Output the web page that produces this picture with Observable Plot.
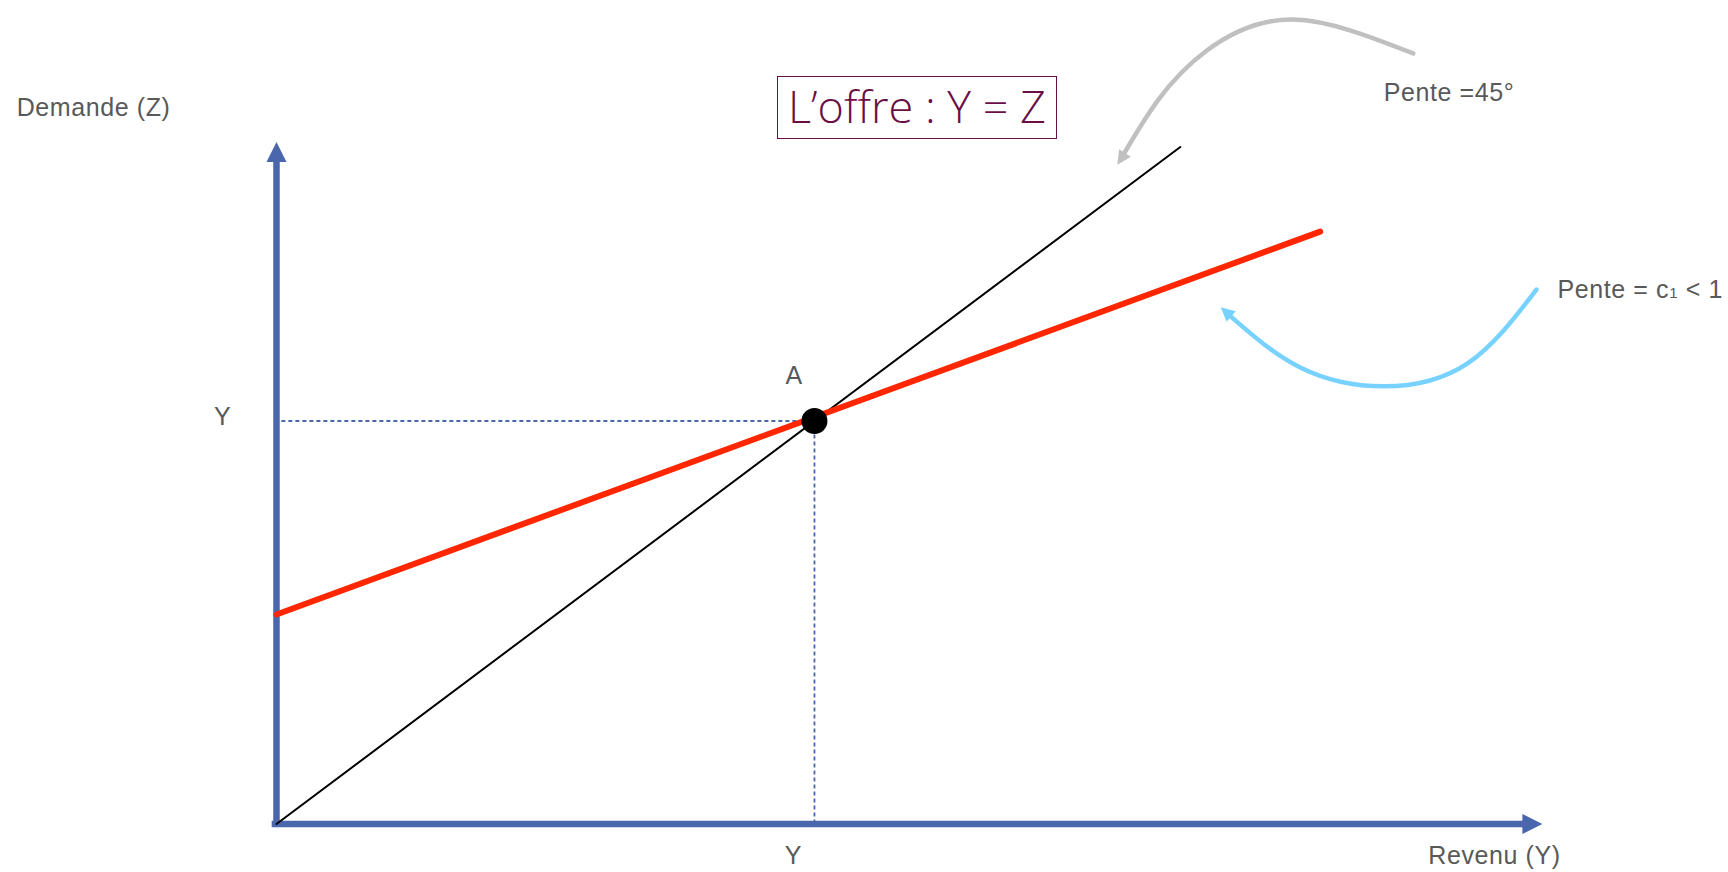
<!DOCTYPE html>
<html><head><meta charset="utf-8">
<script src="https://cdn.jsdelivr.net/npm/d3@7"></script>
<script src="https://cdn.jsdelivr.net/npm/@observablehq/plot@0.6"></script>
<style>
html,body{margin:0;padding:0;background:#fff;}
#wrap{position:relative;width:1728px;height:872px;overflow:hidden;}
#title{position:absolute;left:777px;top:76px;width:280px;height:63px;box-sizing:border-box;border:1.5px solid #6a0f45;color:#6a0f45;font-family:"Open Sans",sans-serif;font-weight:300;font-size:45px;line-height:58px;text-align:center;white-space:nowrap;}
svg text{letter-spacing:0.6px;}
</style></head><body>
<div id="wrap"><div id="title">L’offre : Y = Z</div></div>
<script>
// ---- data (abstract units; equilibrium at 100) ----
const offreX = [0, 168];            // droite à 45° : Y = Z
const offreY = [0, 168];
const demandeX = [0, 194];          // Z = c0 + c1·Y
const demandeY = [52, 147];
const equilibreX = [100];
const equilibreY = [100];
const axeXmax = 235.3, axeXligne = 233.4;
const axeYmax = 169.2, axeYligne = 166.7;
const flecheGriseX = [211.3, 189.0, 173.0, 163.8, 157.6];
const flecheGriseY = [191.2, 199.6, 192.0, 179.5, 166.5];
const pointeGrise = [156.3, 163.6];
const flecheBleueX = [234.2, 221.4, 205.8, 190.3, 177.4];
const flecheBleueY = [132.6, 114.3, 108.6, 113.3, 125.9];
const pointeBleue = [175.5, 128.2];
const labelTexts = ["Demande (Z)", "Revenu (Y)", "Pente =45°", "Pente = c1 < 1", "Y", "Y", "A"];
const labelX = [-48.3, 214.1, 205.8, 238.1, -10, 96.1, 96.2];
const labelY = [175.6, -9.8, 179.3, 130.4, 99.1, -9.8, 109.3];
const labelAnchor = ["start", "start", "start", "start", "middle", "middle", "middle"];

// ---- build ----
const zip = (xs, ys) => xs.map((x, i) => ({x, y: ys[i]}));
const offre = zip(offreX, offreY);
const demande = zip(demandeX, demandeY);
const eq = zip(equilibreX, equilibreY);
const grise = zip(flecheGriseX, flecheGriseY);
const bleue = zip(flecheBleueX, flecheBleueY);
const labels = labelTexts.map((t, i) => ({t, x: labelX[i], y: labelY[i], a: labelAnchor[i]}));

const axisColor = "#4a66ac";
const textColor = "#595959";
const font = "'Liberation Sans', Arial, Helvetica, sans-serif";

const head = {draw(ctx, size) { const w = Math.sqrt(size / Math.PI); ctx.moveTo(0, 0); ctx.lineTo(w, 2 * w); ctx.lineTo(-w, 2 * w); ctx.closePath(); }};

const svg = Plot.plot({
  width: 1728, height: 872, margin: 0,
  x: {domain: [-51.3, 269.9], axis: null},
  y: {domain: [-12.03, 204.34], axis: null},
  style: {background: "transparent", fontFamily: font},
  marks: [
    // guides pointillées
    Plot.ruleY(eq, {y: "y", x1: 1, x2: "x", stroke: axisColor, strokeWidth: 1.8, strokeDasharray: "4,3"}),
    Plot.ruleX(eq, {x: "x", y1: 0, y2: "y", stroke: axisColor, strokeWidth: 1.8, strokeDasharray: "4,3"}),
    // axes
    Plot.ruleY([0], {x1: -0.8, x2: axeXligne, stroke: axisColor, strokeWidth: 6.5}),
    Plot.ruleX([0], {y1: 0, y2: axeYligne, stroke: axisColor, strokeWidth: 6.5}),
    Plot.dot([{x: axeXmax, y: 0}], {x: "x", y: "y", symbol: head, r: 10, rotate: 90, fill: axisColor, stroke: "none"}),
    Plot.dot([{x: 0, y: axeYmax}], {x: "x", y: "y", symbol: head, r: 10, rotate: 0, fill: axisColor, stroke: "none"}),
    // droites
    Plot.line(offre, {x: "x", y: "y", stroke: "black", strokeWidth: 2}),
    Plot.line(demande, {x: "x", y: "y", stroke: "#ff2600", strokeWidth: 6}),
    Plot.dot(eq, {x: "x", y: "y", r: 13, fill: "black", stroke: "none"}),
    // flèches courbes
    Plot.line(grise, {x: "x", y: "y", curve: "natural", stroke: "#c0c0c0", strokeWidth: 4.5}),
    Plot.dot([{x: pointeGrise[0], y: pointeGrise[1]}], {x: "x", y: "y", symbol: head, r: 7, rotate: 213, fill: "#c0c0c0", stroke: "none"}),
    Plot.line(bleue, {x: "x", y: "y", curve: "natural", stroke: "#78d2ff", strokeWidth: 4.5}),
    Plot.dot([{x: pointeBleue[0], y: pointeBleue[1]}], {x: "x", y: "y", symbol: head, r: 7, rotate: 311, fill: "#78d2ff", stroke: "none"}),
    // textes
    Plot.text(labels.filter(d => d.a === "start"), {x: "x", y: "y", text: "t", textAnchor: "start", lineAnchor: "bottom", fontSize: 25, fill: textColor, fontFamily: font}),
    Plot.text(labels.filter(d => d.a === "middle"), {x: "x", y: "y", text: "t", textAnchor: "middle", lineAnchor: "bottom", fontSize: 25, fill: textColor, fontFamily: font})
  ]
});

// indice de c1
svg.querySelectorAll("text").forEach(t => {
  if (t.textContent === "Pente = c1 < 1") {
    t.textContent = "";
    const ns = "http://www.w3.org/2000/svg";
    const parts = [["Pente = c", null], ["1", "15px"], [" < 1", null]];
    for (const [s, fs] of parts) {
      const sp = document.createElementNS(ns, "tspan");
      sp.textContent = s;
      if (fs) sp.setAttribute("font-size", fs);
      t.appendChild(sp);
    }
  }
});

document.getElementById("wrap").prepend(svg);
svg.style.position = "absolute";
svg.style.left = "0";
svg.style.top = "0";
</script>
</body></html>
